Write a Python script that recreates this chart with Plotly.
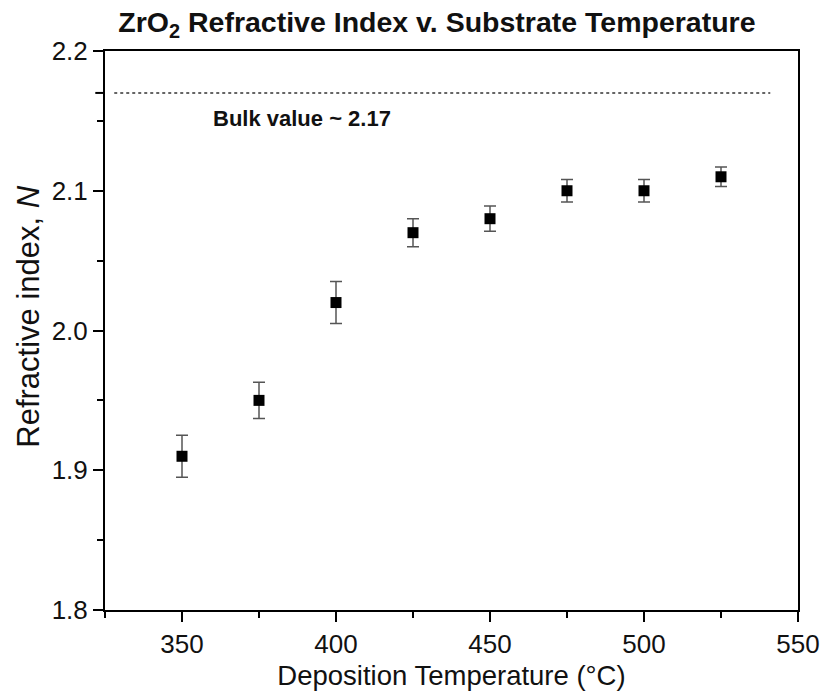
import plotly.graph_objects as go

# Deposition temperature (°C) and measured refractive index with uncertainty
temperature = [350, 375, 400, 425, 450, 475, 500, 525]
refractive_index = [1.91, 1.95, 2.02, 2.07, 2.08, 2.10, 2.10, 2.11]
index_error = [0.015, 0.013, 0.015, 0.010, 0.009, 0.008, 0.008, 0.007]

bulk_value = 2.17
bulk_line_x = [328, 541]
bulk_label = "Bulk value ~ 2.17"

x_ticks = [350, 400, 450, 500, 550]
y_ticks = [1.8, 1.9, 2.0, 2.1, 2.2]

FONT = "Liberation Sans, Arial, sans-serif"
INK = "#111111"

fig = go.Figure()

# Dotted reference line for the bulk refractive index
fig.add_trace(go.Scatter(
    x=bulk_line_x, y=[bulk_value, bulk_value],
    mode="lines",
    line=dict(color="#333333", width=1.6, dash="dot"),
    hoverinfo="skip", showlegend=False,
))

# Measured points with error bars
fig.add_trace(go.Scatter(
    x=temperature, y=refractive_index,
    mode="markers",
    marker=dict(symbol="square", size=11, color="black"),
    error_y=dict(type="data", array=index_error, visible=True,
                 color="#555555", thickness=1.5, width=6),
    showlegend=False,
))

fig.add_annotation(
    x=359.5, y=2.152, xref="x", yref="y",
    text="<b>" + bulk_label + "</b>",
    showarrow=False, xanchor="left", yanchor="middle",
    font=dict(family=FONT, size=22, color=INK),
)

# Y-axis title, drawn as rotated text beside the axis
fig.add_annotation(
    x=-0.11, y=0.526, xref="paper", yref="paper",
    text="Refractive index, <i>N</i>", textangle=-90,
    showarrow=False, xanchor="center", yanchor="middle",
    font=dict(family=FONT, size=31, color=INK),
)

# Tick on the left axis marking the bulk value
fig.add_shape(
    type="line", xref="x domain", yref="y",
    x0=-0.014, x1=0, y0=bulk_value, y1=bulk_value,
    line=dict(color="black", width=2),
)

fig.update_layout(
    width=832, height=698,
    margin=dict(l=105, r=28, t=51, b=85),
    paper_bgcolor="white", plot_bgcolor="white",
    font=dict(family=FONT, color=INK),
    title=dict(
        text="<b>ZrO<sub>2</sub> Refractive Index v. Substrate Temperature</b>",
        x=0.479, xref="paper", xanchor="center",
        y=0.968, yref="container", yanchor="middle",
        font=dict(family=FONT, size=28.5, color=INK),
    ),
)

fig.update_xaxes(
    range=[325, 550],
    tickvals=x_ticks,
    ticks="outside", ticklen=10, tickwidth=2, tickcolor="black",
    minor=dict(dtick=25, tick0=325, ticks="outside", ticklen=6,
               tickwidth=2, tickcolor="black", showgrid=False),
    showline=True, linecolor="black", linewidth=2, mirror=True,
    showgrid=False, zeroline=False,
    tickfont=dict(family=FONT, size=26, color=INK),
    title=dict(text="Deposition Temperature (°C)", standoff=8,
               font=dict(family=FONT, size=27.5, color=INK)),
)

fig.update_yaxes(
    range=[1.8, 2.2],
    tickvals=y_ticks, tickformat=".1f",
    ticks="outside", ticklen=10, tickwidth=2, tickcolor="black",
    minor=dict(dtick=0.05, tick0=1.8, ticks="outside", ticklen=6,
               tickwidth=2, tickcolor="black", showgrid=False),
    showline=True, linecolor="black", linewidth=2, mirror=True,
    showgrid=False, zeroline=False,
    tickfont=dict(family=FONT, size=26, color=INK),
)

fig.write_html("out.html")
